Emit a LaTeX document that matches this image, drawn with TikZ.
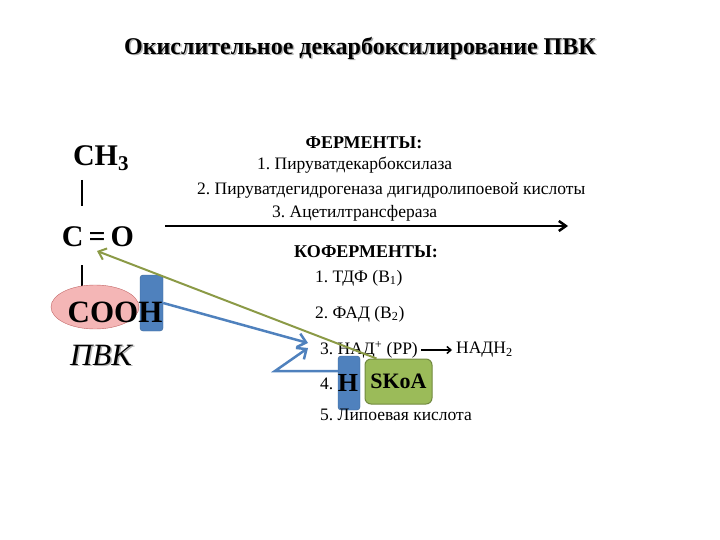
\documentclass[tikz,border=0pt]{standalone}
\usepackage{fontspec}
\setmainfont{Liberation Serif}
\usetikzlibrary{arrows.meta,shapes.geometric}
\begin{document}
\frenchspacing
\begin{tikzpicture}[x=1pt,y=-1pt,
  txt/.style={inner sep=0pt,font=\fontsize{17.5}{19}\selectfont,anchor=west},
  big/.style={inner sep=0pt,font=\fontsize{30}{32}\selectfont\bfseries},
  ]
\useasboundingbox (0,0) rectangle (720,540);
\definecolor{bluefill}{HTML}{4F81BD}
\definecolor{blueln}{HTML}{3A6596}
\definecolor{olive}{HTML}{8B9A46}
\definecolor{greenfill}{HTML}{9BBB59}
\definecolor{greenln}{HTML}{71893F}
\definecolor{pinkfill}{HTML}{F4B6B6}
% title
\node[inner sep=0pt,font=\fontsize{24}{26}\selectfont\bfseries,text=gray!60] at (361.5,49.5) {Окислительное декарбоксилирование ПВК};
\node (title) [inner sep=0pt,font=\fontsize{24}{26}\selectfont\bfseries] at (360,48) {Окислительное декарбоксилирование ПВК};
% formula
\node (ch3) [big] at (101,158) {CH\textsubscript{3}};
\draw[line width=1.5pt] (82,180) -- (82,206);
\node (co) [big] at (98,237) {C{\,}={\,}O};
\draw[line width=1.5pt] (82,265) -- (82,290);
\node (ell) [draw=red!60!black!60,fill=pinkfill,ellipse,minimum width=88,minimum height=44] at (95,307) {};
\node (rect1) [draw=blueln,fill=bluefill,rounded corners=3pt,minimum width=23,minimum height=56,inner sep=0pt] at (151.5,303) {};
\node (cooh) [inner sep=0pt,font=\fontsize{31}{33}\selectfont\bfseries] at (115,312) {COOH};
\node[inner sep=0pt,font=\fontsize{31}{33}\selectfont\itshape,text=gray!60] at (102.5,356.5) {ПВК};
\node (pvk) [inner sep=0pt,font=\fontsize{31}{33}\selectfont\itshape] at (101,355) {ПВК};
% enzymes
\node (ferm) [inner sep=0pt,font=\fontsize{18}{20}\selectfont\bfseries] at (364,143) {ФЕРМЕНТЫ:};
\node (e1) [txt] at (257,165) {1. Пируватдекарбоксилаза};
\node (e2) [txt] at (197,190) {2. Пируватдегидрогеназа дигидролипоевой кислоты};
\node (e3) [txt] at (272,213) {3. Ацетилтрансфераза};
\coordinate (a1) at (165,226);
\coordinate (a2) at (568,226);
\draw[line width=2.5pt,-{Straight Barb[length=7pt,width=10pt]}] (a1) -- (a2);
\node (koferm) [inner sep=0pt,font=\fontsize{18}{20}\selectfont\bfseries] at (366,252) {КОФЕРМЕНТЫ:};
\node (k1) [txt] at (315,278) {1. ТДФ (В\textsubscript{1})};
\node (k2) [txt] at (315,314) {2. ФАД (В\textsubscript{2})};
\node (k3) [txt] at (320,350) {3. НАД\textsuperscript{+} (РР)};
\node (nadh) [txt] at (456,350) {НАДН\textsubscript{2}};
\draw[line width=1.5pt,-{Straight Barb[length=4pt,width=7pt]}] ([xshift=3pt]k3.east) -- ([xshift=-4pt]nadh.west);
\node (k4) [txt] at (320,384) {4.};
\node (rect2) [draw=blueln,fill=bluefill,rounded corners=3pt,minimum width=22,minimum height=54,inner sep=0pt] at (349,383) {};
\node (h) [inner sep=0pt,font=\fontsize{26}{28}\selectfont\bfseries] at (348,383) {H};
\node (skoa) [draw=greenln,fill=greenfill,rounded corners=6pt,line width=1pt,minimum width=67,minimum height=45,inner sep=0pt,font=\fontsize{22}{24}\selectfont\bfseries] at (398.5,381.5) {SKoA};
\node (k5) [txt] at (320,415) {5. Липоевая кислота};
% arrows
\coordinate (b1) at (308,343);
\coordinate (bm) at (275,371);
\coordinate (b2) at (308,348);
\coordinate (g2) at (97,251);
\draw[draw=bluefill,line width=2.5pt,-{Straight Barb[length=8pt,width=14pt]}] (rect1.east) -- (b1);
\draw[draw=bluefill,line width=2.5pt,-{Straight Barb[length=8pt,width=14pt]}] (rect2.west |- bm) -- (bm) -- (b2);
\draw[draw=olive,line width=2pt,-{Straight Barb[length=7pt,width=12pt]}] ([xshift=-22pt]skoa.north) -- (g2);
\end{tikzpicture}
\end{document}
